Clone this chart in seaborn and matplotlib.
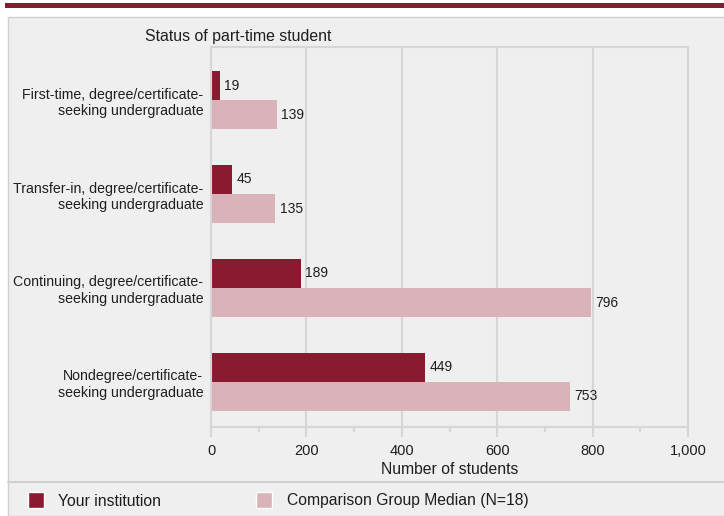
import pandas as pd
import matplotlib.pyplot as plt
import seaborn as sns
from matplotlib.patches import Rectangle
from matplotlib.ticker import MultipleLocator, FuncFormatter

categories = [
    'First-time, degree/certificate-\nseeking undergraduate',
    'Transfer-in, degree/certificate-\nseeking undergraduate',
    'Continuing, degree/certificate-\nseeking undergraduate',
    'Nondegree/certificate-\nseeking undergraduate',
]
your_institution = [19, 45, 189, 449]
comparison_median = [139, 135, 796, 753]
series_names = ['Your institution', 'Comparison Group Median (N=18)']

df = pd.DataFrame({
    'Status': categories * 2,
    'Students': your_institution + comparison_median,
    'Group': [series_names[0]] * 4 + [series_names[1]] * 4,
})

sns.set_theme(style='white')
plt.rcParams['font.family'] = ['Liberation Sans', 'DejaVu Sans']

maroon = '#8a1a2f'
pink = '#d9b3b9'
panel = '#efefef'
grid = '#d6d6d6'
txt = '#1e1e1e'

fig = plt.figure(figsize=(7.24, 5.16), dpi=100)
fig.patch.set_facecolor('white')

# background panel, top stripe and legend separator
fig.patches.append(Rectangle((8 / 724, 0), 1, 1 - 17 / 516, transform=fig.transFigure,
                             facecolor=panel, edgecolor='#d0d0d0', linewidth=1, zorder=-2))
fig.patches.append(Rectangle((5 / 724, 1 - 8 / 516), 1, 5 / 516, transform=fig.transFigure,
                             facecolor=maroon, edgecolor='none', zorder=-1))
fig.add_artist(plt.Line2D([8 / 724, 1], [1 - 482 / 516] * 2, transform=fig.transFigure,
                          color='#d0d0d0', linewidth=1.5, zorder=-1))

ax = fig.add_axes([211 / 724, 1 - 427 / 516, 477 / 724, 380 / 516])
ax.set_zorder(3)
ax.set_facecolor(panel)

sns.barplot(data=df, x='Students', y='Status', hue='Group', orient='h',
            palette=[maroon, pink], width=0.62, ax=ax, legend=False,
            saturation=1, linewidth=0)

for cont in ax.containers:
    ax.bar_label(cont, padding=3, fontsize=10, color=txt)

ax.set_xlim(0, 1000)
ax.set_ylim(3.48, -0.565)
ax.xaxis.set_major_locator(MultipleLocator(200))
ax.xaxis.set_minor_locator(MultipleLocator(100))
ax.xaxis.set_major_formatter(FuncFormatter(lambda v, p: f'{int(v):,}'))
ax.grid(axis='x', which='major', color=grid, linewidth=1.5)
ax.set_axisbelow(True)
for s in ax.spines.values():
    s.set_color(grid)
    s.set_linewidth(1.5)
ax.tick_params(axis='x', which='major', bottom=True, direction='out', length=7, width=1.5,
               color=grid, labelsize=10.5, labelcolor=txt, pad=5)
ax.tick_params(axis='x', which='minor', bottom=True, direction='out', length=3.5, width=1.5,
               color=grid)
ax.tick_params(axis='y', length=0, labelsize=10.2, labelcolor=txt, pad=5.5)
ax.set_ylabel('')
ax.set_xlabel('Number of students', fontsize=11.3, color=txt, labelpad=3)

fig.text(145 / 724, 1 - 37 / 516, 'Status of part-time student', fontsize=11.4,
         color=txt, va='center', ha='left')

# legend
fig.patches.append(Rectangle((28 / 724, 1 - 508 / 516), 16 / 724, 16 / 516,
                             transform=fig.transFigure, facecolor=maroon, zorder=2))
fig.text(58 / 724, 1 - 501 / 516, series_names[0], fontsize=11.3, color=txt, va='center')
fig.patches.append(Rectangle((256 / 724, 1 - 508 / 516), 16 / 724, 16 / 516,
                             transform=fig.transFigure, facecolor=pink, zorder=2))
fig.text(287 / 724, 1 - 501 / 516, series_names[1], fontsize=11.3, color=txt, va='center')

fig.savefig('out.png', dpi=100)
